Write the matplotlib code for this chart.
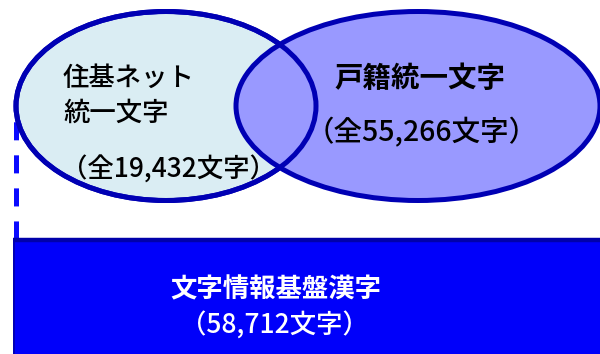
import matplotlib
matplotlib.use("Agg")
import matplotlib.pyplot as plt
from matplotlib.patches import Ellipse, Rectangle

plt.rcParams['font.family'] = ['Noto Sans CJK JP', 'DejaVu Sans']
plt.rcParams['lines.scale_dashes'] = False

# Data
set_names = ["住基ネット\n統一文字", "戸籍統一文字", "文字情報基盤漢字"]
set_counts = [19432, 55266, 58712]

fig = plt.figure(figsize=(6.0, 3.54), dpi=100)
ax = fig.add_axes([0, 0, 1, 1])
ax.set_xlim(0, 600)
ax.set_ylim(354, 0)
ax.axis('off')

edge = '#0000B4'
lw = 3.6

# bottom rectangle (superset)
ax.add_patch(Rectangle((13, 239), 600, 130, facecolor='#0000FA', edgecolor='none', zorder=1))
ax.plot([13, 600], [239.5, 239.5], color='#0000AA', lw=3.2, solid_capstyle='butt', zorder=2)
ax.plot([14, 14], [239, 354], color='#0000AA', lw=1.2, zorder=2)

# dashed connector
ax.plot([15.5, 15.5], [239, 102], color='#0A0AFF', lw=3.6, linestyle=(0, (13.0, 10.8)),
        solid_capstyle='butt', dash_capstyle='butt', zorder=1)

# ellipses
left = dict(xy=(166, 106), width=300, height=189)
right = dict(xy=(418, 106), width=364, height=189)
ax.add_patch(Ellipse(**left, facecolor='#DAEDF3', edgecolor=edge, lw=lw, zorder=3))
ax.add_patch(Ellipse(**right, facecolor='#9999FF', edgecolor=edge, lw=lw, zorder=4))
ax.add_patch(Ellipse(**left, facecolor='none', edgecolor=edge, lw=lw, zorder=5))

fs = 19
ax.text(63, 96, set_names[0], fontsize=fs, ha='left', va='center', color='black',
        fontweight='medium', linespacing=1.38, zorder=6)
ax.text(61, 169.5, f"（全{set_counts[0]:,}文字）", fontsize=fs, ha='left', va='center',
        color='black', fontweight='medium', zorder=6)

ax.text(420, 78.5, set_names[1], fontsize=20.5, ha='center', va='center', color='black',
        fontweight='bold', zorder=6)
ax.text(422, 132.5, f"（全{set_counts[1]:,}文字）", fontsize=20.5, ha='center', va='center',
        color='black', fontweight='medium', zorder=6)

ax.text(276, 290, set_names[2], fontsize=fs, ha='center', va='center', color='white',
        fontweight='bold', zorder=6)
ax.text(274, 324.5, f"（{set_counts[2]:,}文字）", fontsize=fs, ha='center', va='center',
        color='white', fontweight='medium', zorder=6)

fig.savefig('out.png', dpi=100)
